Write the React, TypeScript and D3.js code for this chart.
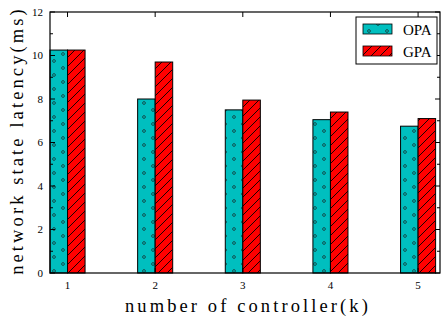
import React, { useRef, useEffect } from 'react';
import * as d3 from 'd3';

const controllers = [1, 2, 3, 4, 5];
const opaValues = [10.25, 8.0, 7.5, 7.05, 6.75];
const gpaValues = [10.25, 9.7, 7.95, 7.4, 7.1];
const yTicks = [0, 2, 4, 6, 8, 10, 12];
const seriesNames = ['OPA', 'GPA'];

const App = () => {
  const ref = useRef<SVGSVGElement>(null);

  useEffect(() => {
    const root = d3.select(ref.current);
    root.selectAll('*').remove();

    const margin = { top: 12, right: 2, bottom: 49, left: 50 };
    const W = 442;
    const H = 322;
    const width = W - margin.left - margin.right;
    const height = H - margin.top - margin.bottom;
    const font = "'Liberation Serif', 'Times New Roman', serif";

    const defs = root.append('defs');
    const dots = defs
      .append('pattern')
      .attr('id', 'dots')
      .attr('patternUnits', 'userSpaceOnUse')
      .attr('width', 18)
      .attr('height', 28);
    dots.append('rect').attr('width', 18).attr('height', 28).attr('fill', '#00bfbf');
    [
      [4, 7],
      [13, 14],
      [4, 21],
      [13, 0],
      [13, 28],
    ].forEach(([cx, cy]) => {
      dots
        .append('circle')
        .attr('cx', cx)
        .attr('cy', cy)
        .attr('r', 1.4)
        .attr('fill', 'none')
        .attr('stroke', '#114444')
        .attr('stroke-width', 0.9);
    });

    const hatch = defs
      .append('pattern')
      .attr('id', 'hatch')
      .attr('patternUnits', 'userSpaceOnUse')
      .attr('width', 9)
      .attr('height', 9);
    hatch.append('rect').attr('width', 9).attr('height', 9).attr('fill', '#ff0000');
    hatch
      .append('path')
      .attr('d', 'M0,9 L9,0 M-2,2 L2,-2 M7,11 L11,7')
      .attr('stroke', '#000')
      .attr('stroke-width', 0.9);

    root.append('rect').attr('width', W).attr('height', H).attr('fill', '#fff');

    const svg = root.append('g').attr('transform', `translate(${margin.left},${margin.top})`);

    const x = d3.scaleLinear().domain([0.8, 5.25]).range([0, width]);
    const y = d3.scaleLinear().domain([0, 12]).range([height, 0]);
    const bw = x(1.2) - x(1);

    const series = [
      { name: seriesNames[0], values: opaValues, fill: 'url(#dots)', offset: -bw },
      { name: seriesNames[1], values: gpaValues, fill: 'url(#hatch)', offset: 0 },
    ];

    series.forEach((s) => {
      svg
        .append('g')
        .selectAll('rect')
        .data(controllers)
        .enter()
        .append('rect')
        .attr('x', (d) => x(d) + s.offset)
        .attr('y', (d, i) => y(s.values[i]))
        .attr('width', bw)
        .attr('height', (d, i) => height - y(s.values[i]))
        .attr('fill', s.fill)
        .attr('stroke', '#000')
        .attr('stroke-width', 1);
    });

    // frame
    svg
      .append('rect')
      .attr('width', width)
      .attr('height', height)
      .attr('fill', 'none')
      .attr('stroke', '#000')
      .attr('stroke-width', 1.2);

    // inward ticks on all sides, minor ones on y
    const minor = d3.range(1, 12, 2);
    const tickG = svg.append('g').attr('stroke', '#000').attr('stroke-width', 1);
    yTicks.forEach((t) => {
      tickG.append('line').attr('x1', 0).attr('x2', 5).attr('y1', y(t)).attr('y2', y(t));
      tickG.append('line').attr('x1', width).attr('x2', width - 5).attr('y1', y(t)).attr('y2', y(t));
    });
    minor.forEach((t) => {
      tickG.append('line').attr('x1', 0).attr('x2', 3).attr('y1', y(t)).attr('y2', y(t));
      tickG.append('line').attr('x1', width).attr('x2', width - 3).attr('y1', y(t)).attr('y2', y(t));
    });
    controllers.forEach((c) => {
      tickG.append('line').attr('x1', x(c)).attr('x2', x(c)).attr('y1', 0).attr('y2', 5);
      tickG.append('line').attr('x1', x(c)).attr('x2', x(c)).attr('y1', height).attr('y2', height - 5);
    });

    svg
      .append('g')
      .selectAll('text')
      .data(yTicks)
      .enter()
      .append('text')
      .attr('x', -7)
      .attr('y', (d) => y(d))
      .attr('dy', '0.35em')
      .attr('text-anchor', 'end')
      .attr('font-family', font)
      .attr('font-size', 11)
      .text((d) => d);

    svg
      .append('g')
      .selectAll('text')
      .data(controllers)
      .enter()
      .append('text')
      .attr('x', (d) => x(d))
      .attr('y', height + 16)
      .attr('text-anchor', 'middle')
      .attr('font-family', font)
      .attr('font-size', 11)
      .text((d) => d);

    svg
      .append('text')
      .attr('x', 198)
      .attr('y', height + 39)
      .attr('text-anchor', 'middle')
      .attr('font-family', font)
      .attr('font-size', 18.5)
      .attr('letter-spacing', 3.1)
      .text('number of controller(k)');

    svg
      .append('text')
      .attr('transform', `translate(${-27},${height / 2 - 2}) rotate(-90)`)
      .attr('text-anchor', 'middle')
      .attr('font-family', font)
      .attr('font-size', 18.5)
      .attr('letter-spacing', 3.1)
      .text('network state latency(ms)');

    // legend
    const lg = svg.append('g').attr('transform', `translate(${306},${5})`);
    lg.append('rect')
      .attr('width', 81)
      .attr('height', 47)
      .attr('fill', '#fff')
      .attr('stroke', '#000')
      .attr('stroke-width', 1);
    series.forEach((s, i) => {
      lg.append('rect')
        .attr('x', 7)
        .attr('y', 7 + i * 22)
        .attr('width', 29)
        .attr('height', 10)
        .attr('fill', s.fill)
        .attr('stroke', '#000')
        .attr('stroke-width', 0.8);
      lg.append('text')
        .attr('x', 47)
        .attr('y', 12.5 + i * 22)
        .attr('dy', '0.35em')
        .attr('font-family', font)
        .attr('font-size', 15)
        .text(s.name);
    });
  }, []);

  return <svg ref={ref} width={442} height={322} style={{ position: 'absolute', left: 0, top: 0 }}></svg>;
};

export default App;
